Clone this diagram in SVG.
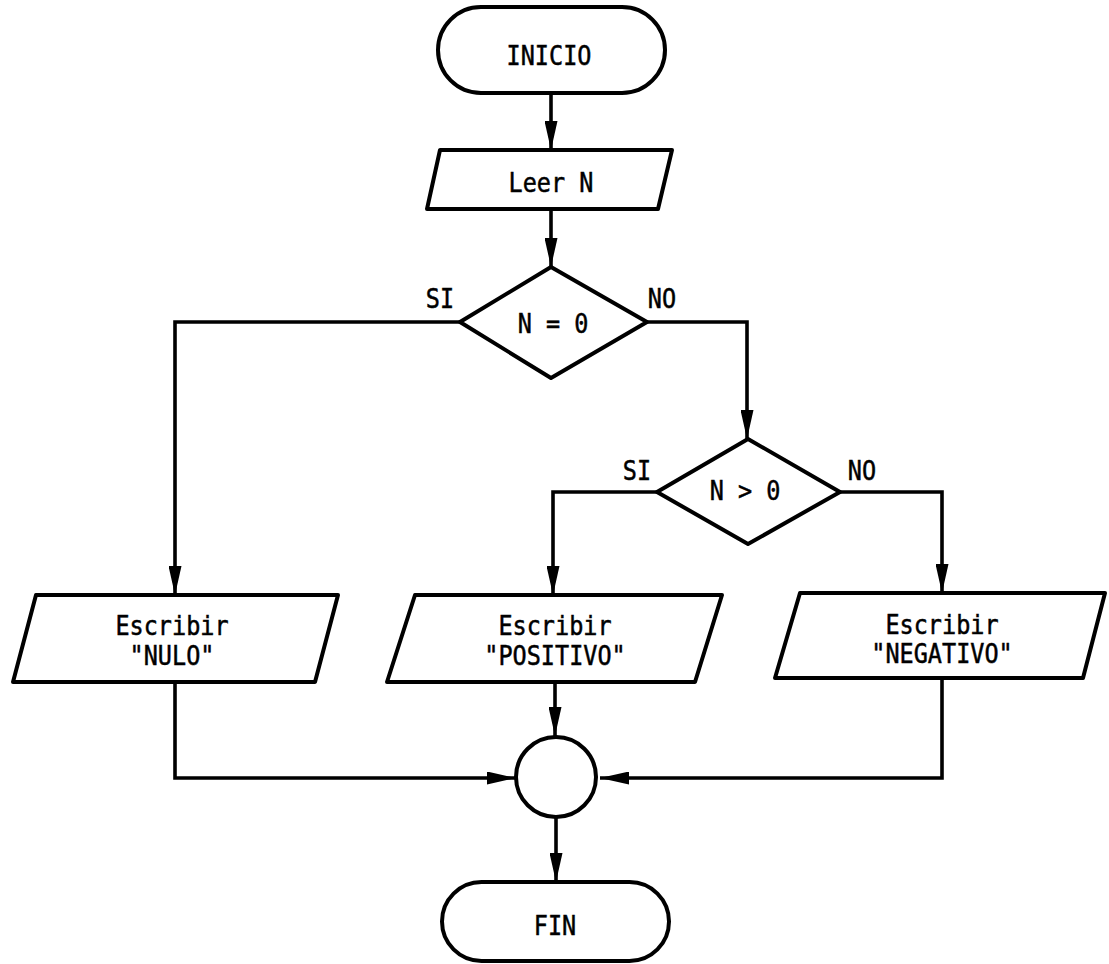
<svg xmlns="http://www.w3.org/2000/svg" width="1109" height="964" viewBox="0 0 1109 964">
  <style>
    .shape { fill: #fff; stroke: #000; stroke-width: 4; stroke-linejoin: round; }
    .link { fill: none; stroke: #000; stroke-width: 3.6; }
    text { font-family: "DejaVu Sans Mono", "Liberation Mono", monospace; font-size: 27px; fill: #000; stroke: #000; stroke-width: 0.5; text-anchor: middle; }
  </style>
  <defs>
    <marker id="arrow" markerUnits="userSpaceOnUse" markerWidth="29" markerHeight="13" refX="29" refY="6.5" orient="auto">
      <path d="M0,0 L29,6.5 L0,13 Z" fill="#000"/>
    </marker>
  </defs>
  <rect width="1109" height="964" fill="#fff"/>

  <!-- connectors -->
  <g id="connectors">
    <path class="link" d="M551,93 L551,150" marker-end="url(#arrow)"/>
    <path class="link" d="M551,209 L551,267" marker-end="url(#arrow)"/>
    <path class="link" d="M460,322 L175,322 L175,595" marker-end="url(#arrow)"/>
    <path class="link" d="M647,322 L747,322 L747,439" marker-end="url(#arrow)"/>
    <path class="link" d="M657,492 L553,492 L553,595" marker-end="url(#arrow)"/>
    <path class="link" d="M840,492 L942,492 L942,593" marker-end="url(#arrow)"/>
    <path class="link" d="M175,682 L175,778 L516,778" marker-end="url(#arrow)"/>
    <path class="link" d="M555,682 L555,736" marker-end="url(#arrow)"/>
    <path class="link" d="M942,678 L942,778 L600,778" marker-end="url(#arrow)"/>
    <path class="link" d="M556,817 L556,882" marker-end="url(#arrow)"/>
  </g>

  <!-- start terminal -->
  <g id="inicio">
    <rect class="shape" x="438" y="7" width="227" height="86" rx="43"/>
    <text transform="translate(549,65) scale(0.87,1)">INICIO</text>
  </g>

  <!-- input -->
  <g id="leer">
    <polygon class="shape" points="440,150 672,150 658,209 427,209"/>
    <text transform="translate(551,192) scale(0.87,1)">Leer N</text>
  </g>

  <!-- first decision -->
  <g id="cond-cero">
    <polygon class="shape" points="551,267 647,322 551,378 460,322"/>
    <text transform="translate(553,333) scale(0.87,1)">N = 0</text>
    <text transform="translate(440,308) scale(0.87,1)">SI</text>
    <text transform="translate(662,308) scale(0.87,1)">NO</text>
  </g>

  <!-- second decision -->
  <g id="cond-positivo">
    <polygon class="shape" points="748,439 840,492 748,544 657,492"/>
    <text transform="translate(745,500) scale(0.87,1)">N &gt; 0</text>
    <text transform="translate(637,480) scale(0.87,1)">SI</text>
    <text transform="translate(862,480) scale(0.87,1)">NO</text>
  </g>

  <!-- outputs -->
  <g id="nulo">
    <polygon class="shape" points="36,595 338,595 315,682 13,682"/>
    <text transform="translate(172,635) scale(0.87,1)">Escribir</text>
    <text transform="translate(172,665) scale(0.87,1)">"NULO"</text>
  </g>
  <g id="positivo">
    <polygon class="shape" points="415,595 722,595 695,682 387,682"/>
    <text transform="translate(555,635) scale(0.87,1)">Escribir</text>
    <text transform="translate(555,665) scale(0.87,1)">"POSITIVO"</text>
  </g>
  <g id="negativo">
    <polygon class="shape" points="800,593 1105,593 1083,678 775,678"/>
    <text transform="translate(942,634) scale(0.87,1)">Escribir</text>
    <text transform="translate(942,663) scale(0.87,1)">"NEGATIVO"</text>
  </g>

  <!-- connector circle -->
  <g id="union">
    <circle class="shape" cx="556" cy="777" r="40"/>
  </g>

  <!-- end terminal -->
  <g id="fin">
    <rect class="shape" x="442" y="882" width="227" height="79" rx="39.5"/>
    <text transform="translate(555,935) scale(0.87,1)">FIN</text>
  </g>
</svg>
